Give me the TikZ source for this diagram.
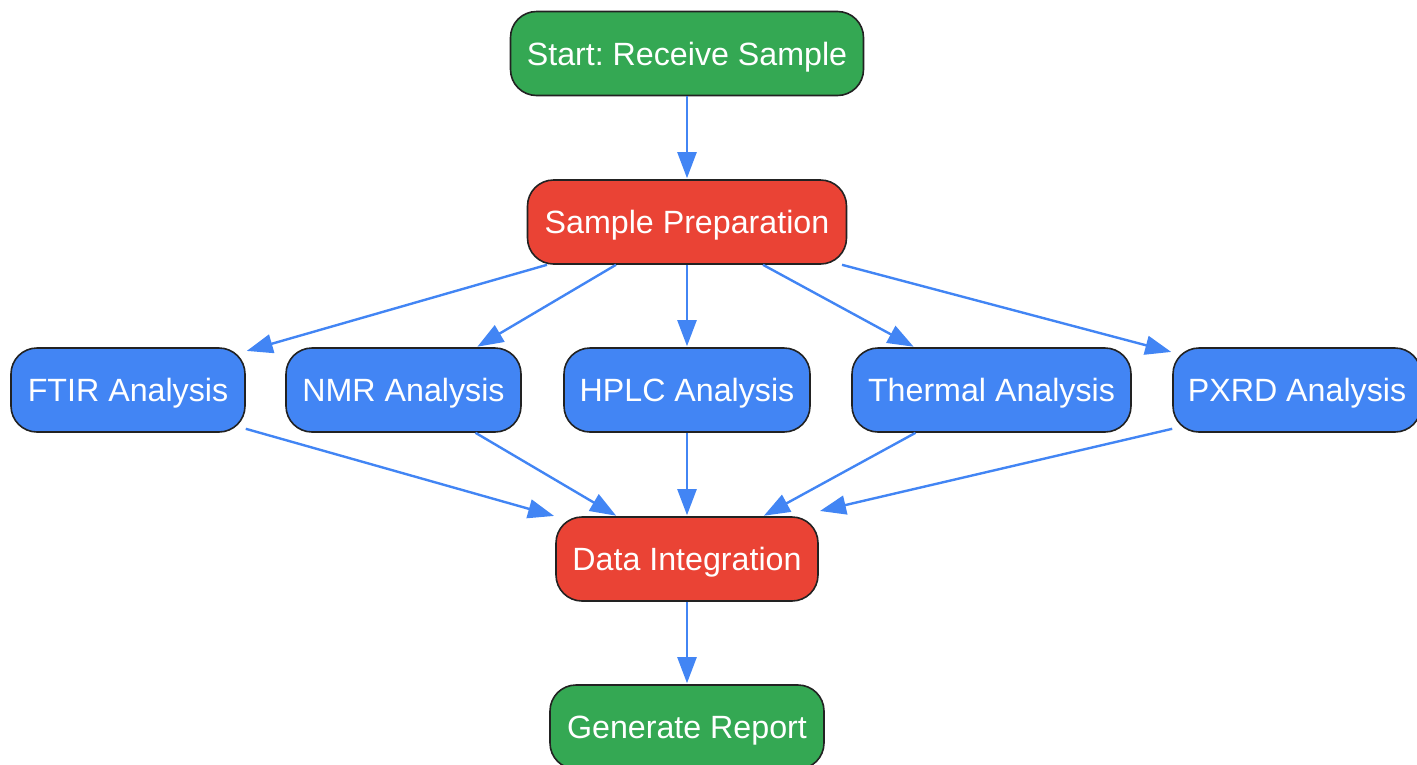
\documentclass[tikz,border=0pt]{standalone}
\usepackage{fontspec}
\setmainfont{Liberation Sans}
\usetikzlibrary{arrows.meta}
\definecolor{ggreen}{HTML}{34A853}
\definecolor{gred}{HTML}{EA4335}
\definecolor{gblue}{HTML}{4285F4}
\definecolor{edge}{HTML}{222222}
\frenchspacing
\tikzset{
  box/.style={rectangle, rounded corners=26pt, draw=edge, line width=1.6pt,
    minimum height=84pt, inner sep=0pt, text=white,
    font=\fontsize{32.2}{38}\selectfont, text height=30pt, text depth=7pt},
  greenbox/.style={box, fill=ggreen},
  redbox/.style={box, fill=gred},
  bluebox/.style={box, fill=gblue},
  conn/.style={draw=gblue, line width=2.4pt, -{Triangle[length=26pt,width=19pt]}, shorten >=1pt}
}
\begin{document}
\begin{tikzpicture}[x=1pt,y=-1pt]
\useasboundingbox (0,0) rectangle (1417,764);
\node[greenbox, minimum width=353pt] (start) at (687,53.5) {Start: Receive Sample};
\node[redbox, minimum width=319pt] (prep) at (687,222) {Sample Preparation};
\node[bluebox, minimum width=234pt] (ftir) at (128,390) {FTIR Analysis};
\node[bluebox, minimum width=235pt] (nmr) at (403.5,390) {NMR Analysis};
\node[bluebox, minimum width=246pt] (hplc) at (687,390) {HPLC Analysis};
\node[bluebox, minimum width=279pt] (thermal) at (991.5,390) {Thermal Analysis};
\node[bluebox, minimum width=248pt] (pxrd) at (1297,390) {PXRD Analysis};
\node[redbox, minimum width=262pt] (data) at (687,559) {Data Integration};
\node[greenbox, minimum width=274pt] (report) at (687,727) {Generate Report};

\draw[conn] (start.south) -- (prep.north);
\draw[conn] ([xshift=-140pt]prep.south) -- ([yshift=-4pt]ftir.north east);
\draw[conn] ([xshift=-71pt]prep.south) -- ([xshift=73pt]nmr.north);
\draw[conn] (prep.south) -- (hplc.north);
\draw[conn] ([xshift=76pt]prep.south) -- ([xshift=-77pt]thermal.north);
\draw[conn] ([xshift=155pt]prep.south) -- ([yshift=-5pt]pxrd.north west);
\draw[conn] ([yshift=4pt]ftir.south east) -- ([xshift=-132pt]data.north);
\draw[conn] ([xshift=72pt]nmr.south) -- ([xshift=-70pt]data.north);
\draw[conn] (hplc.south) -- (data.north);
\draw[conn] ([xshift=-76pt]thermal.south) -- ([xshift=76pt]data.north);
\draw[conn] ([yshift=4pt]pxrd.south west) -- ([xshift=132pt,yshift=5pt]data.north);
\draw[conn] (data.south) -- (report.north);
\end{tikzpicture}
\end{document}
